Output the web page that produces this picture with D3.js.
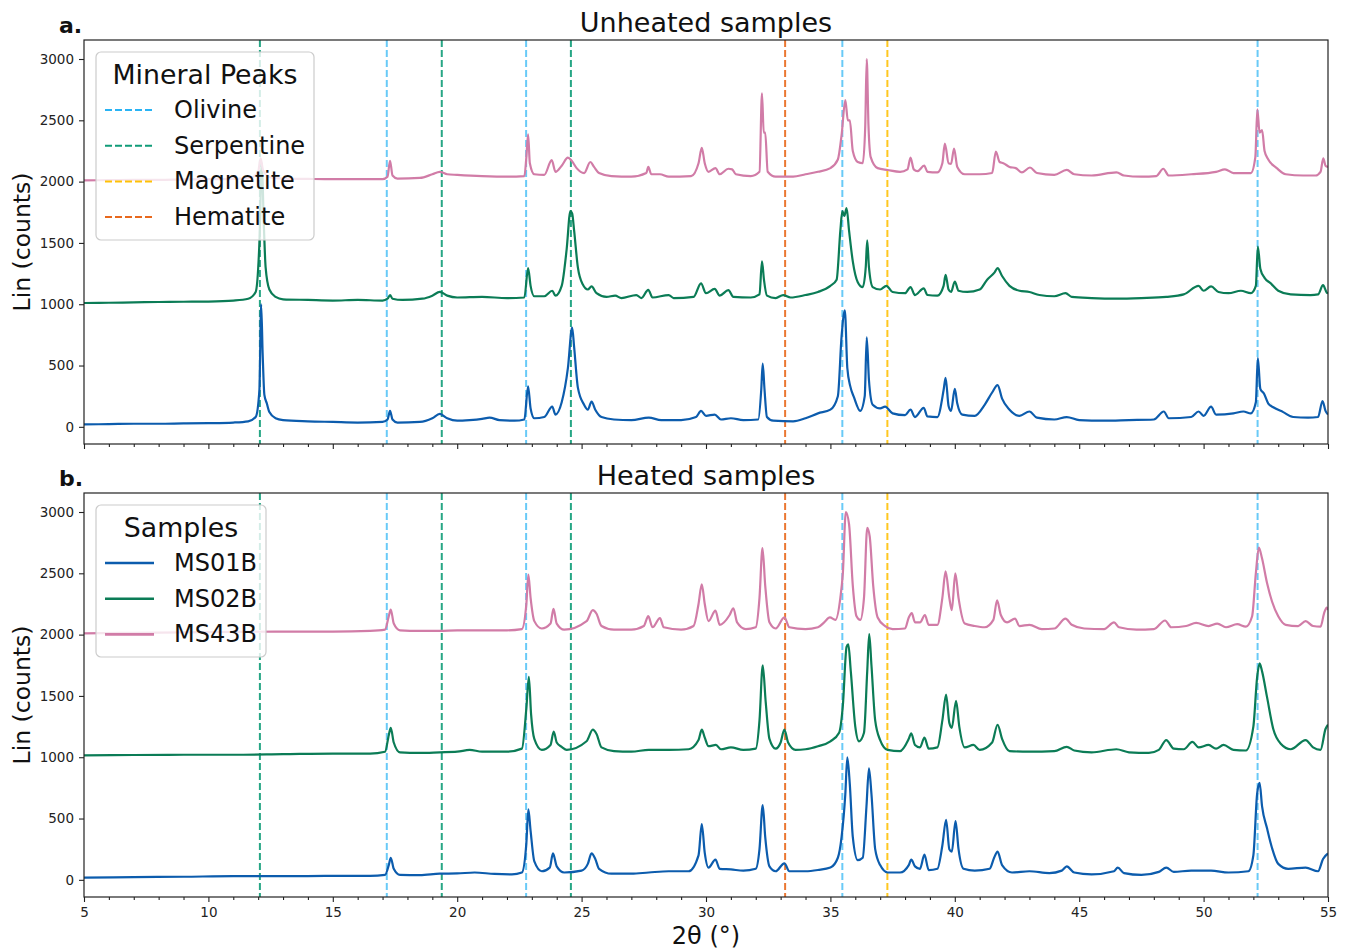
<!DOCTYPE html>
<html>
<head>
<meta charset="utf-8">
<script src="https://cdn.jsdelivr.net/npm/d3@7"></script>
<style>
  body { margin: 0; background: #fff; }
  svg { display: block; font-family: "DejaVu Sans", sans-serif; }
</style>
</head>
<body>
<svg id="chart" width="1345" height="949"></svg>
<script>
// ---- XRD patterns, [2θ (°), Lin counts] (stacked with +1000 / +2000 offsets) ----
const unheatedMS01B = [[5,20],[6,22],[7,25],[8,25],[9,28],[10,30],[11,35],[11.6,45],[11.9,80],[12.05,300],[12.12,1000],[12.18,600],[12.25,260],[12.35,190],[12.45,120],[12.7,70],[13,55],[14,45],[15,40],[16,35],[17,40],[17.2,60],[17.3,130],[17.4,60],[17.6,35],[18.5,40],[19,70],[19.3,105],[19.6,70],[20,50],[20.5,55],[21,65],[21.3,75],[21.7,55],[22.3,50],[22.7,60],[22.85,330],[22.95,150],[23.1,70],[23.5,80],[23.82,165],[23.95,100],[24.2,200],[24.45,480],[24.62,810],[24.7,650],[24.85,320],[25.1,180],[25.25,140],[25.4,205],[25.55,140],[25.8,80],[26.3,60],[27,55],[27.7,75],[28.2,55],[29,55],[29.6,80],[29.8,130],[30,90],[30.35,100],[30.6,60],[31,70],[31.5,55],[32.1,60],[32.22,300],[32.28,515],[32.35,310],[32.45,80],[32.7,50],[33.5,45],[34,70],[34.5,110],[35,140],[35.3,250],[35.45,740],[35.58,950],[35.68,480],[35.8,330],[35.95,240],[36.2,130],[36.38,250],[36.46,730],[36.55,380],[36.7,180],[37,150],[37.2,165],[37.5,110],[38,95],[38.22,140],[38.4,80],[38.75,155],[38.9,85],[39.3,80],[39.55,300],[39.63,400],[39.75,170],[39.85,130],[40.0,310],[40.1,190],[40.3,100],[40.8,90],[41.2,180],[41.5,280],[41.72,340],[41.9,230],[42.2,140],[42.6,90],[43.0,125],[43.3,75],[44,60],[44.5,80],[45,55],[46,50],[47,55],[48,60],[48.4,125],[48.6,70],[49.5,80],[49.8,125],[50,90],[50.3,165],[50.5,100],[51.2,110],[51.6,125],[51.9,110],[52.1,200],[52.18,560],[52.28,310],[52.43,270],[52.6,190],[52.8,160],[53.2,120],[53.6,80],[54.2,75],[54.6,80],[54.78,210],[54.9,130],[55,100]];

const unheatedMS02B = [[5,1010],[6,1012],[7,1015],[8,1018],[9,1020],[10,1022],[11,1030],[11.6,1045],[11.9,1100],[12.05,1500],[12.15,2150],[12.22,1700],[12.3,1300],[12.45,1120],[12.7,1060],[13,1040],[14,1035],[15,1030],[16,1035],[17,1030],[17.2,1045],[17.3,1075],[17.4,1045],[17.8,1035],[18.6,1045],[19,1070],[19.3,1100],[19.6,1070],[20,1055],[21,1060],[22,1050],[22.7,1055],[22.85,1295],[22.95,1150],[23.1,1065],[23.5,1065],[23.82,1110],[23.95,1070],[24.2,1150],[24.4,1450],[24.55,1760],[24.62,1740],[24.7,1600],[24.85,1300],[25.05,1160],[25.25,1120],[25.4,1145],[25.6,1090],[26,1060],[26.35,1070],[26.6,1050],[27.2,1075],[27.4,1050],[27.68,1117],[27.85,1055],[28.5,1075],[28.7,1050],[29.5,1060],[29.8,1170],[30,1090],[30.35,1125],[30.55,1070],[30.9,1115],[31.1,1060],[31.8,1055],[32.15,1080],[32.25,1350],[32.33,1200],[32.45,1070],[32.8,1050],[33.1,1075],[33.4,1055],[34,1075],[34.5,1100],[35,1150],[35.25,1200],[35.4,1600],[35.48,1760],[35.56,1720],[35.65,1785],[35.75,1600],[35.9,1350],[36.1,1180],[36.3,1140],[36.42,1300],[36.48,1520],[36.55,1300],[36.7,1140],[37,1120],[37.25,1150],[37.5,1100],[38,1090],[38.22,1140],[38.4,1075],[38.75,1130],[38.9,1075],[39.3,1070],[39.55,1150],[39.63,1240],[39.75,1120],[39.85,1100],[40.0,1185],[40.15,1110],[40.5,1100],[41,1120],[41.3,1200],[41.6,1260],[41.72,1295],[41.9,1230],[42.2,1150],[42.6,1110],[43,1100],[43.4,1075],[44,1065],[44.45,1090],[44.7,1060],[45.5,1050],[46.5,1045],[47.5,1050],[48.5,1060],[49.2,1080],[49.8,1150],[50.0,1110],[50.3,1145],[50.6,1100],[51,1090],[51.5,1110],[51.9,1090],[52.1,1150],[52.18,1470],[52.28,1290],[52.45,1215],[52.7,1170],[53,1110],[53.5,1080],[54.3,1075],[54.6,1080],[54.8,1155],[54.95,1095],[55,1090]];

const unheatedMS43B = [[5,2010],[6,2012],[7,2015],[8,2015],[9,2018],[10,2020],[11,2022],[11.7,2030],[12.0,2080],[12.1,2190],[12.2,2090],[12.5,2035],[13,2025],[14,2022],[15,2020],[16,2020],[17,2020],[17.2,2040],[17.3,2170],[17.4,2050],[17.6,2025],[18.5,2030],[19,2060],[19.3,2080],[19.6,2060],[20,2055],[21,2045],[22,2040],[22.7,2045],[22.78,2200],[22.85,2385],[22.92,2150],[23.1,2060],[23.5,2055],[23.8,2175],[23.95,2080],[24.2,2130],[24.45,2195],[24.6,2170],[24.8,2110],[25.1,2070],[25.35,2160],[25.5,2120],[25.7,2070],[26.2,2045],[27,2040],[27.6,2070],[27.68,2120],[27.8,2060],[28.15,2060],[28.5,2040],[29.4,2045],[29.7,2150],[29.83,2275],[29.95,2150],[30.1,2080],[30.38,2110],[30.55,2060],[30.9,2105],[31.05,2100],[31.2,2060],[31.8,2045],[32.15,2080],[32.25,2720],[32.32,2400],[32.38,2400],[32.48,2080],[32.8,2040],[33.5,2040],[34,2060],[34.5,2080],[35,2110],[35.3,2180],[35.45,2380],[35.6,2665],[35.7,2500],[35.78,2500],[35.9,2250],[36.1,2160],[36.3,2150],[36.4,2450],[36.46,3000],[36.53,2460],[36.62,2200],[36.9,2110],[37.3,2095],[37.8,2080],[38.1,2100],[38.22,2195],[38.35,2100],[38.5,2085],[38.77,2130],[38.9,2080],[39.3,2075],[39.5,2150],[39.6,2310],[39.75,2150],[39.85,2145],[39.97,2270],[40.1,2120],[40.4,2060],[41,2060],[41.5,2070],[41.65,2245],[41.8,2160],[41.95,2150],[42.2,2120],[42.45,2110],[42.7,2075],[43.02,2115],[43.3,2070],[44,2055],[44.5,2095],[44.8,2060],[45.5,2050],[46.5,2075],[46.8,2050],[47.5,2040],[48.1,2045],[48.38,2105],[48.6,2050],[49.5,2060],[50.5,2080],[50.86,2100],[51.2,2070],[51.9,2070],[52.08,2200],[52.16,2590],[52.25,2400],[52.35,2420],[52.45,2250],[52.6,2180],[52.94,2110],[53.3,2060],[54,2050],[54.5,2050],[54.7,2080],[54.81,2190],[54.9,2130],[55,2120]];

const heatedMS01B = [[5,18],[7,22],[9,25],[11,30],[13,30],[15,32],[16.5,32],[17.1,40],[17.25,120],[17.33,180],[17.45,90],[17.7,40],[18.5,38],[19.3,50],[20,52],[20.7,60],[21.5,48],[22.2,45],[22.6,60],[22.78,300],[22.86,575],[22.95,400],[23.1,150],[23.4,70],[23.72,100],[23.85,215],[24.0,110],[24.3,60],[25,75],[25.25,130],[25.4,215],[25.55,170],[25.7,90],[26.2,50],[27,50],[27.7,60],[28.5,70],[29.3,70],[29.7,200],[29.83,455],[29.95,220],[30.1,100],[30.38,165],[30.55,90],[31.0,85],[31.5,75],[32,90],[32.15,250],[32.28,610],[32.38,350],[32.55,110],[32.8,70],[33.15,135],[33.35,70],[34,70],[34.5,80],[35,100],[35.3,180],[35.45,350],[35.6,700],[35.68,1000],[35.78,780],[35.9,350],[36.1,160],[36.3,180],[36.45,600],[36.55,910],[36.65,700],[36.8,250],[37,120],[37.3,60],[37.8,60],[38.15,120],[38.25,165],[38.4,110],[38.6,90],[38.78,205],[38.95,80],[39.3,90],[39.5,280],[39.65,490],[39.78,250],[39.88,230],[40.03,480],[40.15,250],[40.35,90],[40.8,75],[41.4,90],[41.58,180],[41.72,230],[41.9,120],[42.3,60],[43,70],[43.8,55],[44.3,75],[44.5,110],[44.8,60],[45.5,45],[46.4,70],[46.55,100],[46.8,55],[47.5,40],[48.2,65],[48.5,100],[48.8,65],[49.5,75],[50.3,75],[51,60],[51.8,70],[52.0,200],[52.15,700],[52.25,790],[52.35,600],[52.55,420],[52.75,260],[53,130],[53.4,90],[54.1,100],[54.6,70],[54.8,170],[55,215]];

const heatedMS02B = [[5,1015],[7,1018],[9,1020],[11,1020],[13,1025],[15,1030],[16.5,1030],[17.1,1045],[17.25,1180],[17.33,1240],[17.45,1120],[17.7,1040],[18.5,1035],[19.3,1040],[20,1045],[20.5,1060],[21,1045],[22,1045],[22.6,1070],[22.78,1400],[22.88,1655],[22.97,1350],[23.1,1150],[23.4,1060],[23.75,1100],[23.88,1210],[24.0,1120],[24.2,1085],[24.4,1060],[25.2,1130],[25.45,1225],[25.6,1190],[25.8,1080],[26.3,1050],[27,1045],[27.7,1060],[28.5,1060],[29.3,1065],[29.7,1140],[29.83,1225],[29.95,1160],[30.1,1090],[30.4,1100],[30.6,1065],[31.0,1080],[31.5,1060],[32,1070],[32.15,1300],[32.28,1750],[32.4,1450],[32.55,1150],[32.8,1070],[33.0,1120],[33.15,1225],[33.3,1120],[33.6,1060],[34,1065],[34.5,1090],[35,1130],[35.35,1200],[35.5,1420],[35.65,1900],[35.72,1920],[35.82,1700],[36.0,1250],[36.15,1130],[36.35,1200],[36.48,1700],[36.56,2005],[36.65,1750],[36.8,1300],[37.0,1140],[37.3,1060],[37.8,1050],[38.15,1150],[38.25,1195],[38.4,1100],[38.6,1080],[38.78,1160],[38.95,1070],[39.3,1080],[39.5,1300],[39.65,1510],[39.78,1280],[39.88,1240],[40.05,1460],[40.18,1250],[40.4,1080],[40.75,1100],[41.0,1060],[41.5,1120],[41.72,1265],[41.9,1150],[42.2,1050],[43,1045],[44,1050],[44.5,1085],[44.8,1055],[45.5,1040],[46.5,1065],[47,1040],[47.8,1035],[48.2,1060],[48.5,1140],[48.8,1070],[49.2,1065],[49.55,1125],[49.8,1080],[50.2,1100],[50.5,1070],[50.8,1100],[51.2,1060],[51.7,1055],[52.0,1250],[52.15,1650],[52.25,1765],[52.35,1700],[52.55,1490],[52.8,1230],[53.1,1110],[53.5,1065],[54.1,1140],[54.4,1080],[54.7,1060],[54.9,1230],[55,1265]];

const heatedMS43B = [[5,2010],[7,2015],[9,2018],[11,2022],[13,2025],[15,2025],[16.5,2030],[17.1,2040],[17.25,2150],[17.33,2205],[17.45,2090],[17.7,2035],[18.5,2030],[19.3,2030],[20,2035],[21,2035],[22,2035],[22.6,2045],[22.78,2250],[22.86,2490],[22.95,2300],[23.1,2110],[23.4,2050],[23.75,2090],[23.87,2210],[24.0,2090],[24.3,2040],[25.2,2110],[25.45,2200],[25.6,2170],[25.8,2070],[26.3,2040],[27,2040],[27.5,2070],[27.68,2150],[27.85,2060],[28.15,2135],[28.3,2060],[29,2040],[29.5,2070],[29.7,2250],[29.83,2410],[29.95,2250],[30.1,2110],[30.38,2195],[30.55,2080],[30.95,2160],[31.1,2215],[31.25,2100],[31.6,2045],[32.0,2060],[32.15,2300],[32.27,2705],[32.38,2400],[32.55,2100],[32.8,2050],[33.15,2140],[33.35,2060],[34,2045],[34.5,2060],[34.75,2100],[34.98,2140],[35.2,2120],[35.4,2300],[35.5,2500],[35.62,3000],[35.75,2900],[35.9,2400],[36.05,2150],[36.2,2120],[36.35,2300],[36.48,2870],[36.58,2800],[36.72,2400],[36.9,2140],[37.2,2070],[37.5,2045],[38,2050],[38.15,2140],[38.27,2175],[38.4,2100],[38.6,2100],[38.8,2160],[38.95,2080],[39.3,2080],[39.5,2300],[39.63,2515],[39.78,2300],[39.88,2200],[40.02,2500],[40.15,2300],[40.4,2090],[40.8,2070],[41.2,2060],[41.55,2120],[41.7,2280],[41.85,2160],[42.1,2100],[42.42,2130],[42.6,2070],[43,2080],[43.5,2045],[44,2050],[44.45,2130],[44.7,2080],[45.2,2050],[46.0,2045],[46.4,2100],[46.6,2060],[47.3,2040],[48.0,2045],[48.45,2115],[48.7,2060],[49.3,2070],[49.7,2095],[50.2,2070],[50.55,2090],[50.9,2060],[51.35,2085],[51.7,2065],[51.95,2150],[52.1,2500],[52.22,2710],[52.35,2620],[52.55,2420],[52.75,2270],[53,2150],[53.3,2080],[53.8,2070],[54.1,2110],[54.4,2070],[54.7,2065],[54.85,2180],[54.95,2220],[55,2200]];

// Reference peak positions (2θ) for each mineral
const olivinePeaks = [17.17, 22.77, 35.48, 52.17];
const serpentinePeaks = [12.07, 19.38, 24.57];
const magnetitePeaks = [37.29];
const hematitePeaks = [33.18];

const sampleNames = ["MS01B", "MS02B", "MS43B"];
const sampleColors = ["#0c5cad", "#0b7c56", "#d17ca7"];
const mineralNames = ["Olivine", "Serpentine", "Magnetite", "Hematite"];
const mineralColors = ["#29b3f4", "#109c78", "#ffc107", "#e8681c"];

const xTicks = [5, 10, 15, 20, 25, 30, 35, 40, 45, 50, 55];
const yTicks = [0, 500, 1000, 1500, 2000, 2500, 3000];

// ---- layout ----
const svg = d3.select("#chart");
const left = 84, right = 1328;
const panels = [
  { key: "a.", title: "Unheated samples", top: 40, bottom: 444,
    series: [unheatedMS01B, unheatedMS02B, unheatedMS43B], legend: "minerals", tickLabels: false },
  { key: "b.", title: "Heated samples", top: 493, bottom: 897,
    series: [heatedMS01B, heatedMS02B, heatedMS43B], legend: "samples", tickLabels: true }
];
const mineralPeaks = [olivinePeaks, serpentinePeaks, magnetitePeaks, hematitePeaks];
const mineralAlpha = [0.7, 0.9, 0.9, 0.9];

const x = d3.scaleLinear().domain([5, 55]).range([left, right]);

panels.forEach((p) => {
  const y = d3.scaleLinear().domain([-140, 3155]).range([p.bottom, p.top]);
  const g = svg.append("g");

  const clipId = "clip" + p.key.replace(".", "");
  svg.append("clipPath").attr("id", clipId)
    .append("rect").attr("x", left).attr("y", p.top)
    .attr("width", right - left).attr("height", p.bottom - p.top);

  const plot = g.append("g").attr("clip-path", `url(#${clipId})`);

  // mineral reference lines
  mineralPeaks.forEach((peaks, i) => {
    plot.selectAll(null).data(peaks).enter().append("line")
      .attr("x1", d => x(d)).attr("x2", d => x(d))
      .attr("y1", p.top).attr("y2", p.bottom)
      .attr("stroke", mineralColors[i])
      .attr("stroke-opacity", mineralAlpha[i])
      .attr("stroke-width", 2)
      .attr("stroke-dasharray", "7,3");
  });

  // diffraction patterns
  const line = d3.line().x(d => x(d[0])).y(d => y(d[1])).curve(d3.curveMonotoneX);
  p.series.forEach((s, i) => {
    plot.append("path").datum(s)
      .attr("d", line)
      .attr("fill", "none")
      .attr("stroke", sampleColors[i])
      .attr("stroke-width", 2.2)
      .attr("stroke-linejoin", "round");
  });

  // axes
  const xAxis = d3.axisBottom(x).tickValues(xTicks).tickSize(5).tickPadding(5)
    .tickFormat(p.tickLabels ? d3.format("d") : () => "");
  const xMinor = d3.axisBottom(x).tickValues(d3.range(5, 56, 1).filter(v => v % 5 !== 0))
    .tickSize(3).tickFormat(() => "");
  const yAxis = d3.axisLeft(y).tickValues(yTicks).tickSize(5).tickPadding(5).tickFormat(d3.format("d"));

  const gx = g.append("g").attr("transform", `translate(0,${p.bottom})`).call(xAxis);
  const gxm = g.append("g").attr("transform", `translate(0,${p.bottom})`).call(xMinor);
  const gy = g.append("g").attr("transform", `translate(${left},0)`).call(yAxis);
  [gx, gxm, gy].forEach(a => {
    a.select(".domain").remove();
    a.selectAll("line").attr("stroke", "#222").attr("stroke-width", 1.1);
    a.selectAll("text").attr("fill", "#222").style("font-size", "13.5px")
      .style("font-family", "'DejaVu Sans', sans-serif");
  });

  // frame
  g.append("rect").attr("x", left).attr("y", p.top)
    .attr("width", right - left).attr("height", p.bottom - p.top)
    .attr("fill", "none").attr("stroke", "#222").attr("stroke-width", 1.2);

  // titles
  g.append("text").attr("x", (left + right) / 2).attr("y", p.top - 8)
    .attr("text-anchor", "middle").style("font-size", "27px").attr("fill", "#111")
    .text(p.title);
  g.append("text").attr("x", 59).attr("y", p.top - 7)
    .style("font-size", "22px").style("font-weight", "bold").attr("fill", "#111")
    .text(p.key);
  g.append("text")
    .attr("transform", `translate(30,${(p.top + p.bottom) / 2}) rotate(-90)`)
    .attr("text-anchor", "middle").style("font-size", "23.5px").attr("fill", "#111")
    .text("Lin (counts)");

  // legend
  const lg = g.append("g");
  const lx = left + 12, ly = p.top + 12;
  const isMin = p.legend === "minerals";
  const names = isMin ? mineralNames : sampleNames;
  const colors = isMin ? mineralColors : sampleColors;
  const w = isMin ? 218 : 170;
  const h = isMin ? 188 : 152;
  lg.append("rect").attr("x", lx).attr("y", ly).attr("width", w).attr("height", h)
    .attr("rx", 5).attr("fill", "#fff").attr("fill-opacity", 0.8)
    .attr("stroke", "#cccccc").attr("stroke-width", 1.2);
  lg.append("text").attr("x", lx + w / 2).attr("y", ly + 22)
    .attr("text-anchor", "middle").attr("dominant-baseline", "central")
    .style("font-size", "26.8px").attr("fill", "#111")
    .text(isMin ? "Mineral Peaks" : "Samples");
  names.forEach((n, i) => {
    const cy = ly + 58 + i * 35.7;
    lg.append("line").attr("x1", lx + 9).attr("x2", lx + 58)
      .attr("y1", cy).attr("y2", cy)
      .attr("stroke", colors[i]).attr("stroke-width", isMin ? 2 : 2.6)
      .attr("stroke-dasharray", isMin ? "7,3" : null);
    lg.append("text").attr("x", lx + 78).attr("y", cy)
      .attr("dominant-baseline", "central")
      .style("font-size", "24px").attr("fill", "#111").text(n);
  });
});

// shared x-axis label
svg.append("text").attr("x", (left + right) / 2).attr("y", 944)
  .attr("text-anchor", "middle").style("font-size", "24px").attr("fill", "#111")
  .text("2θ (°)");
</script>
</body>
</html>
